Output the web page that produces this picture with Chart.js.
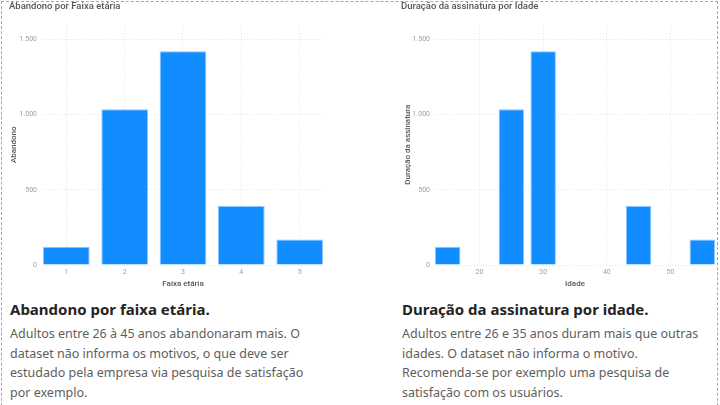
<!DOCTYPE html>
<html>
<head>
<meta charset="utf-8">
<script src="https://cdn.jsdelivr.net/npm/chart.js@4.4.0/dist/chart.umd.min.js"></script>
<style>
    body { margin: 0; width: 720px; height: 405px; overflow: hidden; background: #fff; }
    #frame { position: absolute; left: 1px; top: 1px; width: 717px; height: 440px; border: 1px dashed #a6a6a6; box-sizing: border-box; }
    .chartBox { position: absolute; top: 0; width: 360px; height: 295px; }
    .note { position: absolute; top: 298px; font-family: 'Noto Sans', sans-serif; white-space: nowrap; }
    .note h2 { margin: 0; font-size: 15px; line-height: 22px; font-weight: 700; color: #252423; }
    .note p { margin: 4px 0 0 0; font-size: 12.5px; line-height: 19.5px; color: #605e5c; }
</style>
</head>
<body>
<div id="frame"></div>
<div class="chartBox" style="left:0"><canvas id="faixaChart"></canvas></div>
<div class="chartBox" style="left:360px"><canvas id="idadeChart"></canvas></div>

<div class="note" style="left:10px">
    <h2>Abandono por faixa etária.</h2>
    <p>Adultos entre 26 à 45 anos abandonaram mais. O<br>dataset não informa os motivos, o que deve ser<br>estudado pela empresa via pesquisa de satisfação<br>por exemplo.</p>
</div>
<div class="note" style="left:402px">
    <h2>Duração da assinatura por idade.</h2>
    <p>Adultos entre 26 e 35 anos duram mais que outras<br>idades. O dataset não informa o motivo.<br>Recomenda-se por exemplo uma pesquisa de<br>satisfação com os usuários.</p>
</div>

<script>
const faixas = [1, 2, 3, 4, 5];
const abandono = [122, 1035, 1422, 393, 169];
const idades = [15, 25, 30, 45, 55];
const duracao = [122, 1035, 1422, 393, 169];
const yTicks = [0, 500, 1000, 1500];
const idadeTicks = [20, 30, 40, 50];

const colors = {
    bar: '#118dff',
    grid: '#e3e3e3',
    tick: '#a0a0a0',
    title: '#555555'
};

const chartFont = "Roboto, 'Noto Sans', sans-serif";

// 1.500 style thousands separator
function fmt(v) {
    return String(v).replace(/\B(?=(\d{3})+(?!\d))/g, '.');
}

function setTicks(list) {
    return function(scale) {
        scale.ticks = list.map(v => ({ value: v }));
    };
}

function makeChart(id, opts) {
    const ctx = document.getElementById(id).getContext('2d');
    return new Chart(ctx, {
        type: 'bar',
        data: {
            datasets: [{
                data: opts.xs.map((x, i) => ({ x: x, y: opts.ys[i] })),
                backgroundColor: colors.bar,
                borderColor: '#8cc8ff',
                borderWidth: 1,
                barPercentage: 0.8,
                categoryPercentage: 1
            }]
        },
        options: {
            responsive: true,
            maintainAspectRatio: false,
            animation: false,
            layout: { padding: opts.padding },
            plugins: {
                legend: { display: false },
                tooltip: { enabled: false },
                title: {
                    display: true,
                    text: opts.title,
                    align: 'start',
                    color: '#555555',
                    font: { family: chartFont, size: 9.5, weight: '500' },
                    padding: { top: 1, bottom: 12 }
                }
            },
            scales: {
                x: {
                    type: 'linear',
                    offset: false,
                    min: opts.xMin,
                    max: opts.xMax,
                    afterBuildTicks: setTicks(opts.xTicks),
                    afterFit: function(scale) { scale.height = 30; },
                    grid: { color: colors.grid, drawTicks: false, offset: false },
                    border: { display: false, dash: [1, 2] },
                    ticks: {
                        color: colors.tick,
                        padding: 3,
                        font: { family: chartFont, size: 7 }
                    },
                    title: {
                        display: true,
                        text: opts.xTitle,
                        color: colors.title,
                        font: { family: chartFont, size: 8, weight: '500' },
                        padding: { top: 0, bottom: 6 }
                    }
                },
                y: {
                    min: 0,
                    max: 1600,
                    afterBuildTicks: setTicks(yTicks),
                    afterFit: function(scale) { scale.width = opts.yWidth; },
                    grid: { color: colors.grid, drawTicks: false },
                    border: { display: false, dash: [1, 2] },
                    ticks: {
                        color: colors.tick,
                        padding: opts.yTickPad,
                        font: { family: chartFont, size: 7 },
                        callback: v => fmt(v)
                    },
                    title: {
                        display: true,
                        text: opts.yTitle,
                        color: colors.title,
                        font: { family: chartFont, size: 8, weight: '500' },
                        padding: { top: opts.yTitlePad, bottom: 0 }
                    }
                }
            }
        }
    });
}

// Abandono por Faixa etária
makeChart('faixaChart', {
    title: 'Abandono por Faixa etária',
    xs: faixas,
    ys: abandono,
    xMin: 0.6,
    xMax: 5.4,
    xTicks: faixas,
    xTitle: 'Faixa etária',
    yTitle: 'Abandono',
    yWidth: 34,
    yTickPad: 6,
    yTitlePad: 0,
    padding: { left: 9, right: 37, top: 0, bottom: 0 }
});

// Duração da assinatura por Idade
makeChart('idadeChart', {
    title: 'Duração da assinatura por Idade',
    xs: idades,
    ys: duracao,
    xMin: 13,
    xMax: 57,
    xTicks: idadeTicks,
    xTitle: 'Idade',
    yTitle: 'Duração da assinatura',
    yWidth: 34,
    yTickPad: 5,
    yTitlePad: 2,
    padding: { left: 41, right: 5, top: 0, bottom: 0 }
});
</script>
</body>
</html>
